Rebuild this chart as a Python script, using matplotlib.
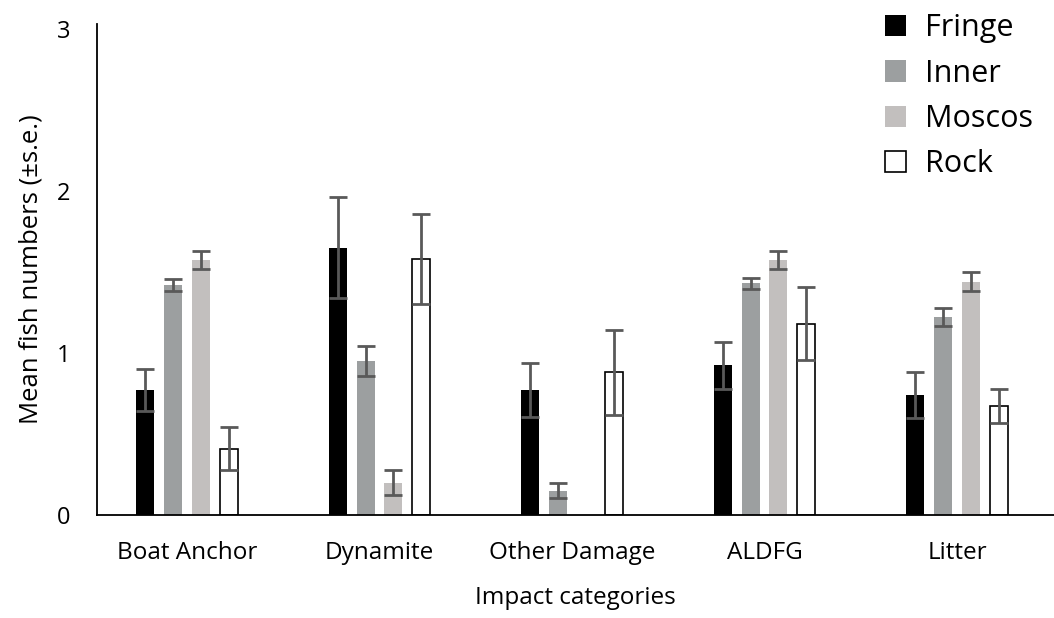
import numpy as np
import matplotlib
matplotlib.use("Agg")
import matplotlib.pyplot as plt
from matplotlib.patches import Patch

plt.rcParams['font.family'] = ['Open Sans', 'DejaVu Sans']

categories = ["Boat Anchor", "Dynamite", "Other Damage", "ALDFG", "Litter"]
series = ["Fringe", "Inner", "Moscos", "Rock"]

fringe = [0.77, 1.65, 0.77, 0.925, 0.74]
fringe_se = [0.13, 0.31, 0.165, 0.145, 0.14]
inner = [1.42, 0.95, 0.15, 1.43, 1.22]
inner_se = [0.035, 0.093, 0.045, 0.035, 0.055]
moscos = [1.575, 0.20, 0.0, 1.575, 1.44]
moscos_se = [0.055, 0.075, 0.0, 0.055, 0.06]
rock = [0.41, 1.58, 0.88, 1.18, 0.67]
rock_se = [0.13, 0.28, 0.26, 0.225, 0.105]

means = [fringe, inner, moscos, rock]
errs = [fringe_se, inner_se, moscos_se, rock_se]
colors = ["#000000", "#9c9fa0", "#c2bfbe", "#ffffff"]

fig = plt.figure(figsize=(10.54, 6.18), dpi=100)
ax = fig.add_axes([97/1054, 1-515/618, 1-97/1054, (515-24)/618])

x = np.arange(len(categories))
width = 0.0935
step = 0.1445
for k in range(4):
    pos = x + (k-1.5)*step
    ec = "#000000" if k == 3 else colors[k]
    ax.bar(pos, means[k], width, color=colors[k], edgecolor=ec, linewidth=1.2 if k == 3 else 0, zorder=2)
    m = np.array(means[k])
    e = np.array(errs[k])
    show = e > 0
    ax.errorbar(pos[show], m[show], yerr=e[show], fmt='none', ecolor="#595959",
                elinewidth=2, capsize=6.5, capthick=2, zorder=3)

ax.set_xlim(-0.4675, 4.504)
ax.set_ylim(0, 3.03)
ax.set_yticks([0, 1, 2, 3])
ax.set_xticks(x)
ax.set_xticklabels(categories, fontsize=17.5)
ax.tick_params(axis='y', labelsize=17, length=0, pad=19)
ax.tick_params(axis='x', length=0, pad=19)
for s in ["top", "right"]:
    ax.spines[s].set_visible(False)
ax.spines["left"].set_linewidth(1.3)
ax.spines["bottom"].set_linewidth(1.3)
ax.set_ylabel("Mean fish numbers (\u00b1s.e.)", fontsize=18.5, labelpad=10)
ax.set_xlabel("Impact categories", fontsize=17.5, labelpad=15)

handles = [Patch(facecolor=colors[k], edgecolor="#000000" if k == 3 else colors[k],
                 linewidth=1.2 if k == 3 else 0) for k in range(4)]
ax.legend(handles, series, loc="upper right", bbox_to_anchor=(1.0, 1.065), frameon=False,
          fontsize=22, handlelength=0.7, handleheight=0.7, handletextpad=0.6,
          labelspacing=0.5, borderaxespad=0.3)

fig.savefig("out.png", dpi=100)
